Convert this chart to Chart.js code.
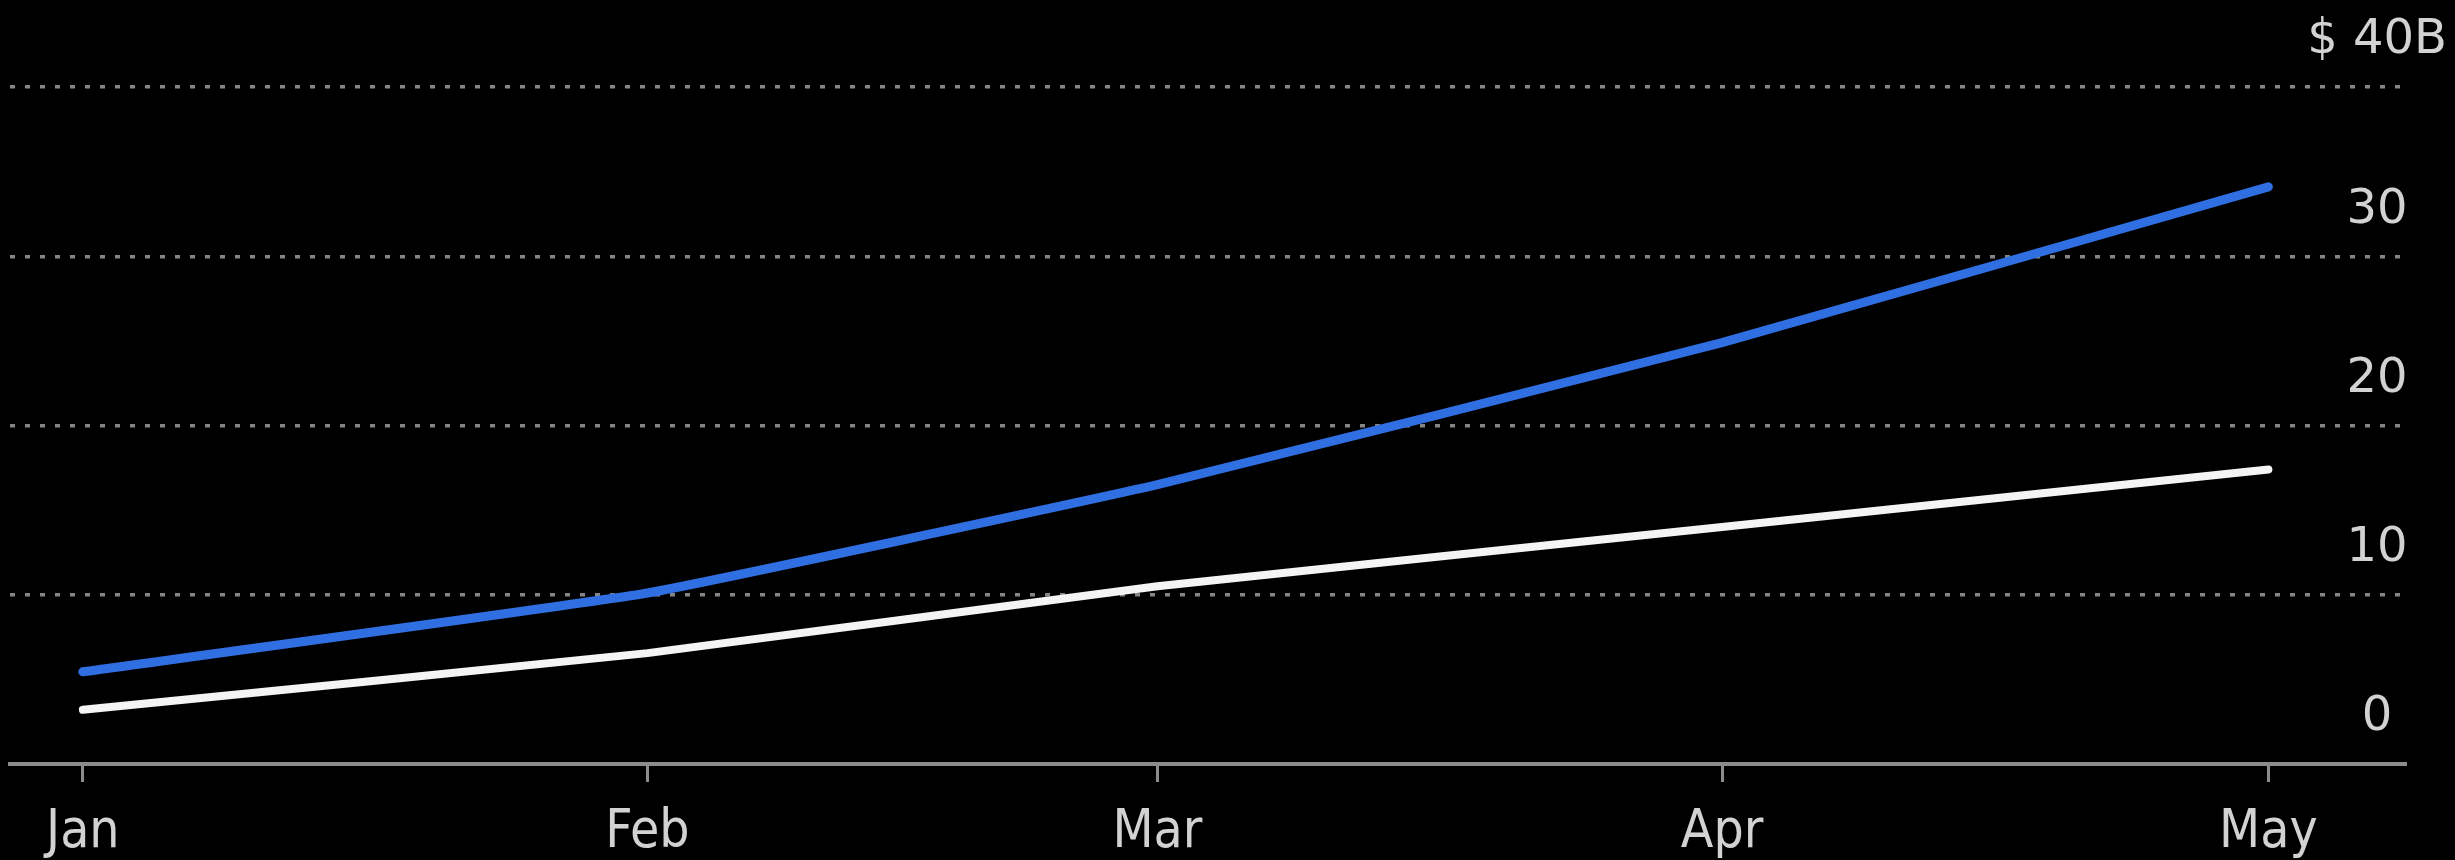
<!DOCTYPE html>
<html>
<head>
<meta charset="utf-8">
<script src="https://cdn.jsdelivr.net/npm/chart.js@4"></script>
<style>
  html, body { margin: 0; padding: 0; background: #000; }
  #wrap { width: 2455px; height: 860px; position: relative; background: #000; }
</style>
</head>
<body>
<div id="wrap"><canvas id="c"></canvas></div>
<script>
// ---- data ----
const monthLabels = ['Jan', 'Feb', 'Mar', 'Apr', 'May'];
const monthDays   = [0, 31, 59, 90, 120];          // day offset of each month start
const blueValues  = [5.45, 10.1, 16.5, 24.9, 34.1]; // $B
const whiteValues = [3.2, 6.55, 10.5, 14.0, 17.4];  // $B
const yTicks      = [0, 10, 20, 30, 40];
const yTopLabel   = '$ 40B';

const toPoints = vals => vals.map((v, i) => ({ x: monthDays[i], y: v }));

new Chart(document.getElementById('c'), {
  type: 'line',
  data: {
    datasets: [
      {
        label: 'Blue series',
        data: toPoints(blueValues),
        borderColor: '#2f6fe2',
        borderWidth: 9,
        pointRadius: 0,
        tension: 0.1,
        borderCapStyle: 'round',
        borderJoinStyle: 'round'
      },
      {
        label: 'White series',
        data: toPoints(whiteValues),
        borderColor: '#f4f4f4',
        borderWidth: 8,
        pointRadius: 0,
        tension: 0.1,
        borderCapStyle: 'round',
        borderJoinStyle: 'round'
      }
    ]
  },
  options: {
    responsive: true,
    maintainAspectRatio: false,
    animation: false,
    events: [],
    layout: { padding: { left: 10, right: 0, top: 87, bottom: 0 } },
    plugins: { legend: { display: false }, tooltip: { enabled: false } },
    scales: {
      x: {
        type: 'linear',
        min: -4,
        max: 127.5,
        afterBuildTicks: s => { s.ticks = monthDays.map(v => ({ value: v })); },
        afterFit: s => { s.height = 96; },
        border: { display: true, color: '#8c8c8c', width: 4 },
        grid: { drawOnChartArea: false, drawTicks: true, tickLength: 18, color: '#8c8c8c', lineWidth: 3 },
        ticks: {
          autoSkip: false,
          maxRotation: 0,
          padding: 19,
          color: '#d2d2d2',
          font: { family: "'DejaVu Sans Condensed', 'Liberation Sans Narrow', 'DejaVu Sans', sans-serif", size: 53 },
          callback: v => monthLabels[monthDays.indexOf(v)]
        }
      },
      y: {
        position: 'right',
        min: 0,
        max: 40,
        afterBuildTicks: s => { s.ticks = yTicks.map(v => ({ value: v })); },
        afterFit: s => { s.width = 50; },
        border: { display: false, dash: [5, 10] },
        grid: {
          drawTicks: false,
          color: c => (c.tick && c.tick.value === 0) ? 'rgba(0,0,0,0)' : '#858585',
          lineWidth: 3.5
        },
        ticks: {
          mirror: true,
          crossAlign: 'center',
          padding: 42,
          labelOffset: -46,
          color: '#d2d2d2',
          font: { family: "'DejaVu Sans', sans-serif", size: 48 },
          callback: v => (v === yTicks[yTicks.length - 1] ? yTopLabel : String(v))
        }
      }
    }
  }
});
</script>
</body>
</html>
